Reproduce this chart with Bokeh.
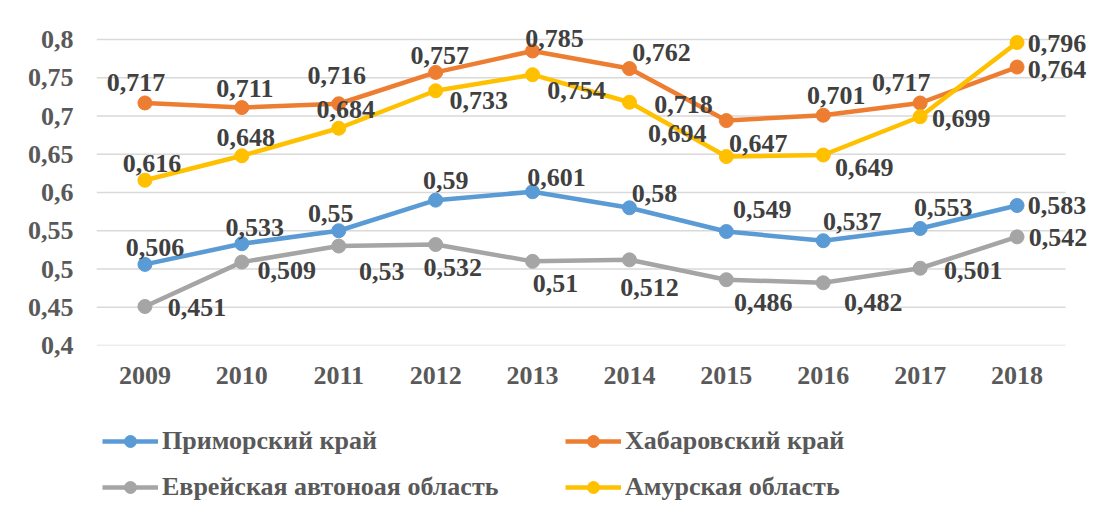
from bokeh.plotting import figure
from bokeh.layouts import column
from bokeh.models import (ColumnDataSource, FixedTicker, Legend, LegendItem,
                          Range1d, LabelSet)
from bokeh.embed import file_html
from bokeh.resources import INLINE

# ---------------- data ----------------
years = ["2009", "2010", "2011", "2012", "2013", "2014", "2015", "2016", "2017", "2018"]
primorsky = [0.506, 0.533, 0.55, 0.59, 0.601, 0.58, 0.549, 0.537, 0.553, 0.583]
khabarovsk = [0.717, 0.711, 0.716, 0.757, 0.785, 0.762, 0.694, 0.701, 0.717, 0.764]
jewish = [0.451, 0.509, 0.53, 0.532, 0.51, 0.512, 0.486, 0.482, 0.501, 0.542]
amur = [0.616, 0.648, 0.684, 0.733, 0.754, 0.718, 0.647, 0.649, 0.699, 0.796]
series_names = ["Приморский край", "Хабаровский край",
                "Еврейская автоноая область", "Амурская область"]
y_ticks = [0.4, 0.45, 0.5, 0.55, 0.6, 0.65, 0.7, 0.75, 0.8]
y_tick_labels = ["0,4", "0,45", "0,5", "0,55", "0,6", "0,65", "0,7", "0,75", "0,8"]

# ---------------- styles ----------------
colors = ["#5B9BD5", "#ED7D31", "#A5A5A5", "#FFC000"]
FONT = "Liberation Serif"
# data-label placement offsets in pixels (+x right, +y up)
label_dx = [
    [10, 13, -8, 10, 24, 25, 36, 29, 23, 40],
    [-9, 3, -2, 4, 22, 32, -49, 13, -19, 40],
    [52, 45, 43, 17, 23, 20, 37, 50, 53, 41],
    [7, 4, 7, 43, 44, 54, 32, 41, 41, 40],
]
label_dy = [
    [17, 16, 17, 20, 14, 14, 22, 19, 21, 0],
    [20, 19, 28, 17, 12, 16, -13, 20, 20, -2],
    [-1, -8, -25, -23, -22, -28, -23, -20, -2, -1],
    [17, 18, 19, -10, -16, -2, 13, -12, -2, -1],
]

# category centres on a numeric axis (one unit per year)
xpos = [i + 0.5 for i in range(len(years))]
n = len(years)
PX_PER_UNIT = 96.9
PX_PER_Y = 765.0
W = 1100
H_CHART, H_LEGEND = 405, 101
LEFT, TOP, BOTTOM = 96, 10, 60
frame_w = W - LEFT
frame_h = H_CHART - TOP - BOTTOM
x_end = frame_w / PX_PER_UNIT
y_top = y_ticks[0] + frame_h / PX_PER_Y

p = figure(x_range=Range1d(0, x_end),
           y_range=Range1d(y_ticks[0], y_top),
           width=W, height=H_CHART,
           min_border_left=LEFT, min_border_right=0,
           min_border_top=TOP, min_border_bottom=BOTTOM,
           output_backend="svg", toolbar_location=None,
           background_fill_color="white", border_fill_color="white")
p.outline_line_color = None

# axes
p.yaxis.ticker = FixedTicker(ticks=y_ticks)
p.yaxis.major_label_overrides = {t: l for t, l in zip(y_ticks, y_tick_labels)}
p.xaxis.ticker = FixedTicker(ticks=xpos)
p.xaxis.major_label_overrides = {x: y for x, y in zip(xpos, years)}
for ax in (p.xaxis[0], p.yaxis[0]):
    ax.axis_line_color = None
    ax.major_tick_line_color = None
    ax.minor_tick_line_color = None
    ax.major_tick_out = 0
    ax.major_tick_in = 0
    ax.major_label_text_font = FONT
    ax.major_label_text_font_style = "bold"
    ax.major_label_text_font_size = "26px"
    ax.major_label_text_color = "#595959"
p.yaxis.major_label_standoff = 23
p.xaxis.major_label_standoff = 21

p.xgrid.grid_line_color = None
p.ygrid.grid_line_color = None
# horizontal gridlines spanning the category area only
p.segment(x0=[0] * len(y_ticks), x1=[n] * len(y_ticks), y0=y_ticks, y1=y_ticks,
          line_color="#D9D9D9", line_width=1.5)

series = [primorsky, khabarovsk, jewish, amur]
sources = []
for i, vals in enumerate(series):
    src = ColumnDataSource(dict(x=xpos, y=vals))
    sources.append(src)
    p.line("x", "y", source=src, line_color=colors[i], line_width=4.5)
    p.scatter("x", "y", source=src, size=14, fill_color=colors[i],
              line_color=colors[i])

for i, vals in enumerate(series):
    lsrc = ColumnDataSource(dict(
        x=xpos, y=vals,
        t=[str(v).replace(".", ",") for v in vals],
        dx=label_dx[i], dy=label_dy[i]))
    p.add_layout(LabelSet(x="x", y="y", text="t", source=lsrc,
                          x_offset="dx", y_offset="dy",
                          text_font=FONT, text_font_style="bold",
                          text_font_size="26px", text_color="#404040",
                          text_align="center", text_baseline="middle"))

# ---------------- legend strip under the chart ----------------
# (its view range is away from the data, so only the legend shows)
pl = figure(x_range=Range1d(-3, -2), y_range=Range1d(-3, -2),
            width=W, height=H_LEGEND, min_border=0,
            x_axis_location=None, y_axis_location=None,
            output_backend="svg", toolbar_location=None,
            background_fill_color="white", border_fill_color="white")
pl.outline_line_color = None
pl.grid.visible = False
items = []
for i, name in enumerate(series_names):
    lr = pl.line("x", "y", source=sources[i], line_color=colors[i], line_width=4.5)
    sr = pl.scatter("x", "y", source=sources[i], size=11,
                    fill_color=colors[i], line_color=colors[i])
    items.append(LegendItem(label=name, renderers=[lr, sr]))

legend = Legend(items=items, orientation="horizontal", ncols=2,
                location=(6, 4),
                padding=0, margin=0, spacing=16,
                glyph_width=56, glyph_height=30, label_standoff=4,
                label_width=387,
                label_text_font=FONT, label_text_font_style="bold",
                label_text_font_size="26px", label_text_color="#595959",
                border_line_color=None, background_fill_alpha=0)
pl.add_layout(legend, "center")

layout = column(p, pl, spacing=0)
open("out.html", "w").write(file_html(layout, INLINE))
